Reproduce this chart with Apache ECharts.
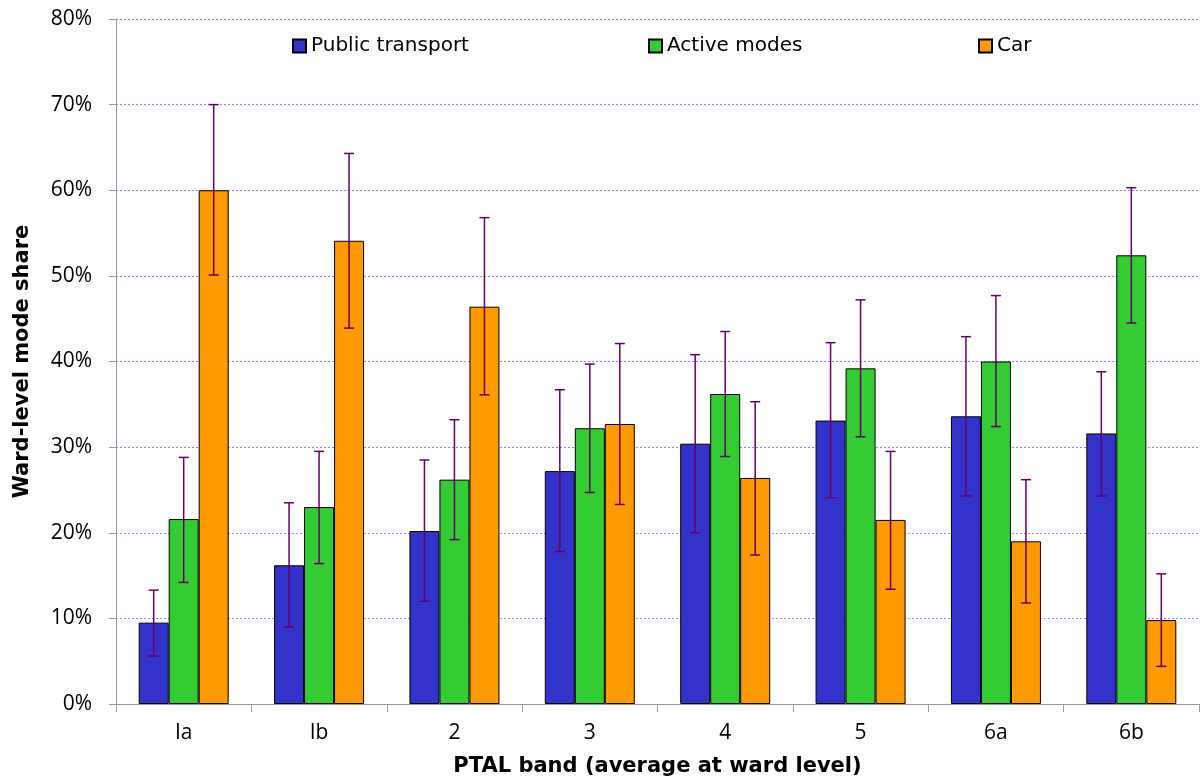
<!DOCTYPE html>
<html>
<head>
<meta charset="utf-8">
<script src="https://cdn.jsdelivr.net/npm/echarts@6/dist/echarts.min.js"></script>
<style>html,body{margin:0;padding:0;background:#fff}#c{width:1202px;height:783px}</style>
</head>
<body>
<div id="c"></div>
<script>
const categories = ['Ia', 'Ib', '2', '3', '4', '5', '6a', '6b'];
const yTicks = ['0%', '10%', '20%', '30%', '40%', '50%', '60%', '70%', '80%'];
const publicTransport = [9.5, 16.2, 20.2, 27.2, 30.4, 33.1, 33.6, 31.6];
const publicTransportLow = [5.6, 9.0, 12.0, 17.8, 20.0, 24.1, 24.3, 24.3];
const publicTransportHigh = [13.3, 23.5, 28.5, 36.7, 40.8, 42.2, 42.9, 38.8];
const activeModes = [21.6, 23.0, 26.2, 32.2, 36.2, 39.2, 40.0, 52.4];
const activeModesLow = [14.2, 16.4, 19.2, 24.7, 28.9, 31.2, 32.4, 44.5];
const activeModesHigh = [28.8, 29.5, 33.2, 39.7, 43.5, 47.2, 47.7, 60.3];
const car = [60.0, 54.1, 46.4, 32.7, 26.4, 21.5, 19.0, 9.8];
const carLow = [50.1, 43.9, 36.1, 23.3, 17.4, 13.4, 11.8, 4.4];
const carHigh = [70.0, 64.3, 56.8, 42.1, 35.3, 29.5, 26.2, 15.2];

const FONT = '"Open Sans", sans-serif';
const WIDE = '"DejaVu Sans", sans-serif';
const BAR_W = 30;

function errSeries(low, high, offset) {
  return {
    type: 'custom',
    silent: true,
    z: 10,
    data: low.map((l, i) => [i, l, high[i]]),
    encode: { x: 0, y: [1, 2] },
    renderItem: function (params, api) {
      const i = api.value(0);
      const lo = api.coord([i, api.value(1)]);
      const hi = api.coord([i, api.value(2)]);
      const x = lo[0] + offset;
      const cap = 5;
      const st = { stroke: '#660066', lineWidth: 1.5 };
      return {
        type: 'group',
        children: [
          { type: 'line', shape: { x1: x, y1: lo[1], x2: x, y2: hi[1] }, style: st },
          { type: 'line', shape: { x1: x - cap, y1: lo[1], x2: x + cap, y2: lo[1] }, style: st },
          { type: 'line', shape: { x1: x - cap, y1: hi[1], x2: x + cap, y2: hi[1] }, style: st }
        ]
      };
    }
  };
}

const barStyle = c => ({ color: c, borderColor: '#000', borderWidth: 1 });
const legendCommon = {
  top: 31, itemWidth: 13, itemHeight: 13, itemGap: 5,
  icon: 'rect',
  textStyle: { fontFamily: WIDE, fontSize: 20, color: '#000', padding: [0, 0, 0, 0] }
};

const chart = echarts.init(document.getElementById('c'));
chart.setOption({
  animation: false,
  backgroundColor: '#fff',
  textStyle: { fontFamily: FONT },
  legend: [
    Object.assign({ left: 287, data: ['Public transport'] }, legendCommon),
    Object.assign({ left: 643, data: ['Active modes'] }, legendCommon),
    Object.assign({ left: 973, data: ['Car'] }, legendCommon)
  ],
  grid: { left: 116, right: 3, top: 19, bottom: 79, containLabel: false, outerBoundsMode: 'none' },
  xAxis: {
    type: 'category',
    data: categories,
    name: 'PTAL band (average at ward level)',
    nameLocation: 'middle',
    nameGap: 52,
    nameTextStyle: { fontFamily: WIDE, fontSize: 21, fontWeight: 'bold', color: '#000' },
    axisLine: { lineStyle: { color: '#999', width: 1 } },
    axisTick: { show: true, length: 8, lineStyle: { color: '#999' } },
    axisLabel: { fontFamily: FONT, fontSize: 21, color: '#000', margin: 19 },
    splitLine: { show: false }
  },
  yAxis: {
    type: 'value',
    min: 0, max: 80, interval: 10,
    name: 'Ward-level mode share',
    nameLocation: 'middle',
    nameGap: 83,
    nameTextStyle: { fontFamily: WIDE, fontSize: 21, fontWeight: 'bold', color: '#000' },
    axisLine: { show: true, lineStyle: { color: '#999', width: 1 } },
    axisTick: { show: true, length: 7, lineStyle: { color: '#999' } },
    axisLabel: {
      fontFamily: FONT, fontSize: 21, color: '#000', margin: 24,
      formatter: v => yTicks[Math.round(v / 10)]
    },
    splitLine: { show: true, lineStyle: { color: '#9b7bff', type: [2, 2], width: 1 } }
  },
  series: [
    { name: 'Public transport', type: 'bar', data: publicTransport, barWidth: BAR_W, barGap: '0%', itemStyle: barStyle('#3333cc') },
    { name: 'Active modes', type: 'bar', data: activeModes, barWidth: BAR_W, barGap: '0%', itemStyle: barStyle('#33cc33') },
    { name: 'Car', type: 'bar', data: car, barWidth: BAR_W, barGap: '0%', itemStyle: barStyle('#ff9900') },
    errSeries(publicTransportLow, publicTransportHigh, -BAR_W),
    errSeries(activeModesLow, activeModesHigh, 0),
    errSeries(carLow, carHigh, BAR_W)
  ]
});
</script>
</body>
</html>
